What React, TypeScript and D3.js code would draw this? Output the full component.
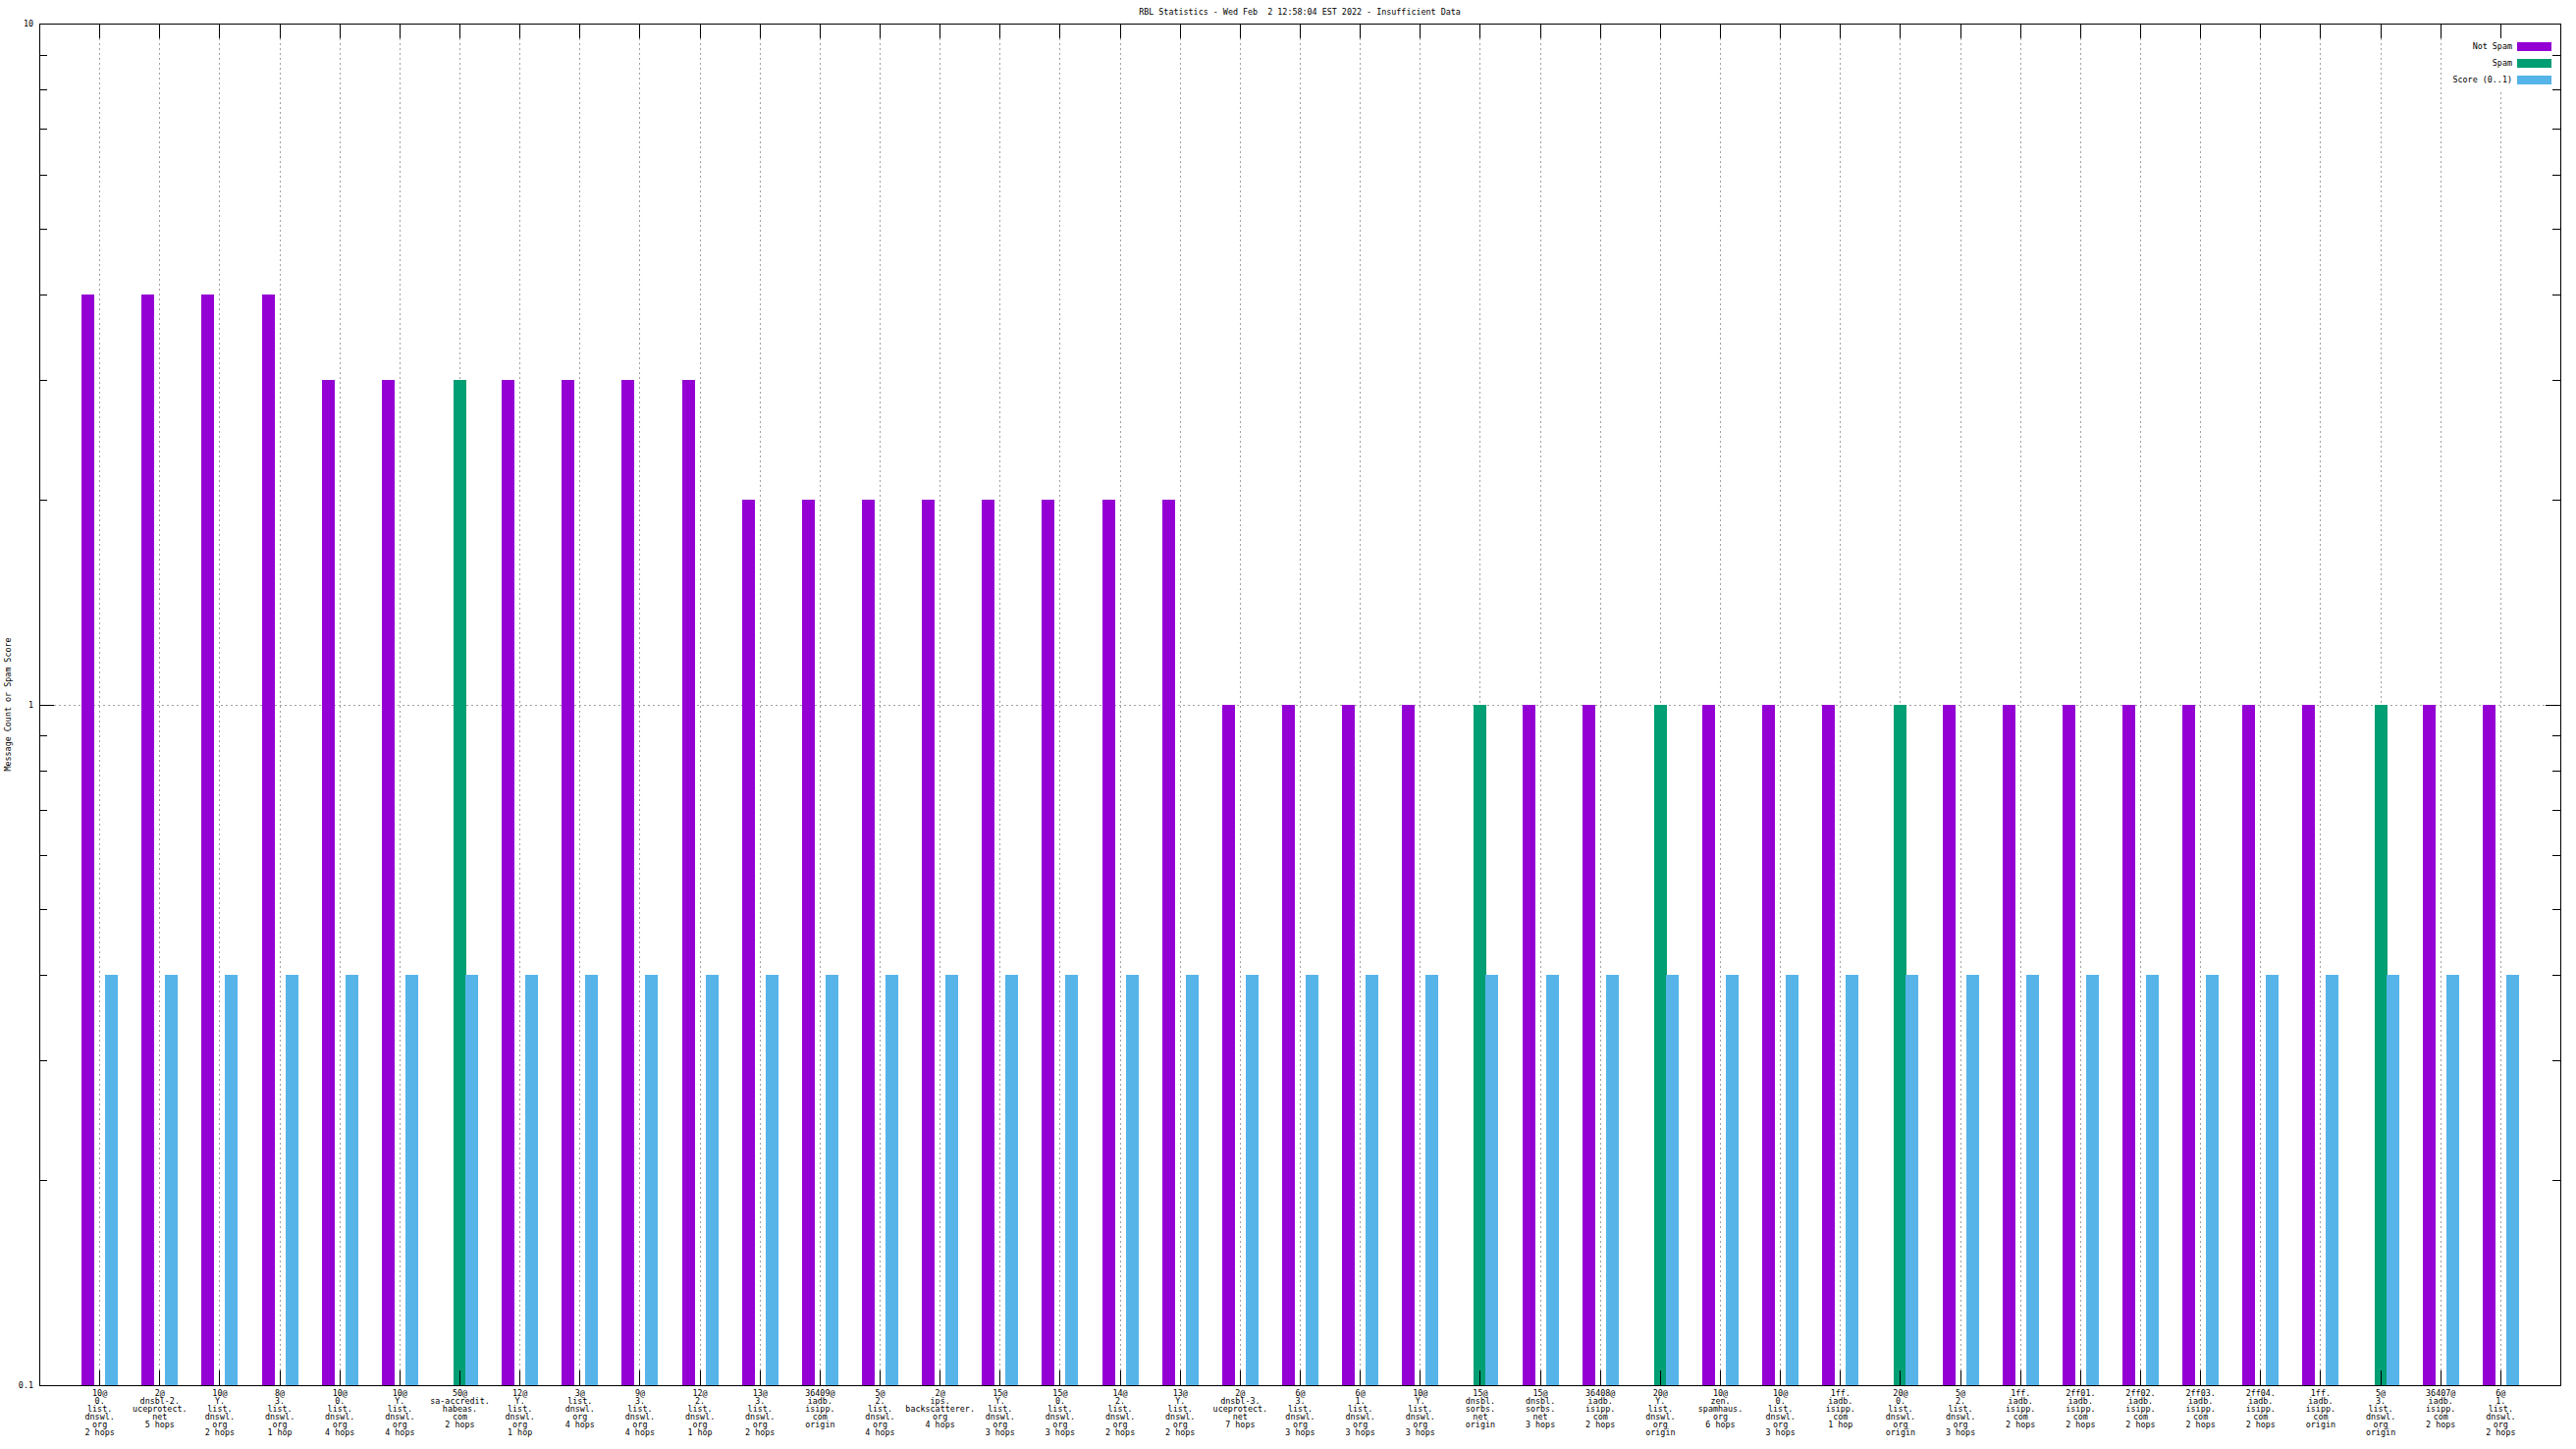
import React from "react";
import * as d3 from "d3";

const TITLE = "RBL Statistics - Wed Feb  2 12:58:04 EST 2022 - Insufficient Data";
const Y_LABEL = "Message Count or Spam Score";
const SERIES = ["Not Spam", "Spam", "Score (0..1)"];
const COLORS = ["#9400d3", "#009e73", "#56b4e9"];

const categories: string[][] = [
  ["10@", "0.", "list.", "dnswl.", "org", "2 hops"],
  ["2@", "dnsbl-2.", "uceprotect.", "net", "5 hops"],
  ["10@", "Y.", "list.", "dnswl.", "org", "2 hops"],
  ["8@", "3.", "list.", "dnswl.", "org", "1 hop"],
  ["10@", "0.", "list.", "dnswl.", "org", "4 hops"],
  ["10@", "Y.", "list.", "dnswl.", "org", "4 hops"],
  ["50@", "sa-accredit.", "habeas.", "com", "2 hops"],
  ["12@", "Y.", "list.", "dnswl.", "org", "1 hop"],
  ["3@", "list.", "dnswl.", "org", "4 hops"],
  ["9@", "3.", "list.", "dnswl.", "org", "4 hops"],
  ["12@", "2.", "list.", "dnswl.", "org", "1 hop"],
  ["13@", "3.", "list.", "dnswl.", "org", "2 hops"],
  ["36409@", "iadb.", "isipp.", "com", "origin"],
  ["5@", "2.", "list.", "dnswl.", "org", "4 hops"],
  ["2@", "ips.", "backscatterer.", "org", "4 hops"],
  ["15@", "Y.", "list.", "dnswl.", "org", "3 hops"],
  ["15@", "0.", "list.", "dnswl.", "org", "3 hops"],
  ["14@", "2.", "list.", "dnswl.", "org", "2 hops"],
  ["13@", "Y.", "list.", "dnswl.", "org", "2 hops"],
  ["2@", "dnsbl-3.", "uceprotect.", "net", "7 hops"],
  ["6@", "3.", "list.", "dnswl.", "org", "3 hops"],
  ["6@", "1.", "list.", "dnswl.", "org", "3 hops"],
  ["10@", "Y.", "list.", "dnswl.", "org", "3 hops"],
  ["15@", "dnsbl.", "sorbs.", "net", "origin"],
  ["15@", "dnsbl.", "sorbs.", "net", "3 hops"],
  ["36408@", "iadb.", "isipp.", "com", "2 hops"],
  ["20@", "Y.", "list.", "dnswl.", "org", "origin"],
  ["10@", "zen.", "spamhaus.", "org", "6 hops"],
  ["10@", "0.", "list.", "dnswl.", "org", "3 hops"],
  ["1ff.", "iadb.", "isipp.", "com", "1 hop"],
  ["20@", "0.", "list.", "dnswl.", "org", "origin"],
  ["5@", "2.", "list.", "dnswl.", "org", "3 hops"],
  ["1ff.", "iadb.", "isipp.", "com", "2 hops"],
  ["2ff01.", "iadb.", "isipp.", "com", "2 hops"],
  ["2ff02.", "iadb.", "isipp.", "com", "2 hops"],
  ["2ff03.", "iadb.", "isipp.", "com", "2 hops"],
  ["2ff04.", "iadb.", "isipp.", "com", "2 hops"],
  ["1ff.", "iadb.", "isipp.", "com", "origin"],
  ["5@", "3.", "list.", "dnswl.", "org", "origin"],
  ["36407@", "iadb.", "isipp.", "com", "2 hops"],
  ["6@", "1.", "list.", "dnswl.", "org", "2 hops"],
];

const notSpam = [4, 4, 4, 4, 3, 3, 0, 3, 3, 3, 3, 2, 2, 2, 2, 2, 2, 2, 2, 1, 1, 1, 1, 0, 1, 1, 0, 1, 1, 1, 0, 1, 1, 1, 1, 1, 1, 1, 0, 1, 1];
const spam = [0, 0, 0, 0, 0, 0, 3, 0, 0, 0, 0, 0, 0, 0, 0, 0, 0, 0, 0, 0, 0, 0, 0, 1, 0, 0, 1, 0, 0, 0, 1, 0, 0, 0, 0, 0, 0, 0, 1, 0, 0];
const score = categories.map(() => 0.4);

const yTickLabels = ["0.1", "1", "10"];
const yMajor = [0.1, 1, 10];
const yMinor = [0.2, 0.3, 0.4, 0.5, 0.6, 0.7, 0.8, 0.9, 2, 3, 4, 5, 6, 7, 8, 9];

const W = 2624, H = 1476;
const L = 40, R = 2608, T = 24, B = 1411;
const FONT = "'DejaVu Sans Mono', 'Liberation Mono', monospace";
const FS = 8.4;

export default function App() {
  const n = categories.length;
  const x = d3.scaleLinear().domain([-1, n]).range([L, R]);
  const y = d3.scaleLog().domain([0.1, 10]).range([B, T]);
  const sub = d3.scaleLinear().domain([0, 2]).range([-11.5, 12.5]);
  const barW = 13;
  const seriesVals = [notSpam, spam, score];
  const grid = "#a0a0a0";

  return (
    <svg width={W} height={H} style={{ position: "absolute", left: 0, top: 0, background: "#fff" }}
      fontFamily={FONT} fontSize={FS}>
      <rect x={0} y={0} width={W} height={H} fill="#fff" />
      {/* title */}
      <text x={(L + R) / 2} y={15} textAnchor="middle" fill="#000" xmlSpace="preserve"
        style={{ whiteSpace: "pre" }}>{TITLE}</text>
      {/* grid */}
      <g stroke={grid} strokeWidth={1} strokeDasharray="2,3" shapeRendering="crispEdges">
        {categories.map((_, i) => (
          <line key={"gx" + i} x1={Math.round(x(i)) + 0.5} x2={Math.round(x(i)) + 0.5} y1={T} y2={B} />
        ))}
        {yMajor.map((v, i) => (
          <line key={"gy" + i} x1={L} x2={R} y1={Math.round(y(v)) + 0.5} y2={Math.round(y(v)) + 0.5} />
        ))}
      </g>
      {/* bars */}
      <g shapeRendering="crispEdges">
        {seriesVals.map((vals, s) =>
          vals.map((v, i) => {
            if (!(v > 0.1)) return null;
            const cx = x(i) + sub(s);
            const top = Math.round(y(v));
            return (
              <rect key={s + "-" + i} x={Math.round(cx - barW / 2)} y={top} width={barW} height={B - top}
                fill={COLORS[s]} />
            );
          })
        )}
      </g>
      {/* legend */}
      <rect x={2494} y={39} width={110} height={52} fill="#fff" />
      {SERIES.map((s, k) => {
        const cy = 47.5 + k * 17;
        return (
          <g key={"lg" + k}>
            <text x={2559} y={cy + 2.5} textAnchor="end" fill="#000">{s}</text>
            <rect x={2564} y={cy - 4.5} width={35} height={9} fill={COLORS[k]} shapeRendering="crispEdges" />
          </g>
        );
      })}
      {/* ticks */}
      <g stroke="#000" strokeWidth={1} shapeRendering="crispEdges">
        {categories.map((_, i) => {
          const xx = Math.round(x(i)) + 0.5;
          return (
            <g key={"tx" + i}>
              <line x1={xx} x2={xx} y1={B} y2={B - 15} />
              <line x1={xx} x2={xx} y1={T} y2={T + 15} />
            </g>
          );
        })}
        {yMajor.map((v, i) => {
          const yy = Math.round(y(v)) + 0.5;
          return (
            <g key={"tym" + i}>
              <line x1={L} x2={L + 15} y1={yy} y2={yy} />
              <line x1={R} x2={R - 15} y1={yy} y2={yy} />
            </g>
          );
        })}
        {yMinor.map((v, i) => {
          const yy = Math.round(y(v)) + 0.5;
          return (
            <g key={"tyn" + i}>
              <line x1={L} x2={L + 8} y1={yy} y2={yy} />
              <line x1={R} x2={R - 8} y1={yy} y2={yy} />
            </g>
          );
        })}
      </g>
      {/* border */}
      <rect x={L + 0.5} y={T + 0.5} width={R - L} height={B - T} fill="none" stroke="#000" strokeWidth={1}
        shapeRendering="crispEdges" />
      {/* y tick labels */}
      {yMajor.map((v, i) => (
        <text key={"yl" + i} x={34} y={Math.round(y(v)) + 3} textAnchor="end" fill="#000">{yTickLabels[i]}</text>
      ))}
      {/* y axis label */}
      <text transform={`translate(11,${(T + B) / 2}) rotate(-90)`} textAnchor="middle" fill="#000">{Y_LABEL}</text>
      {/* x labels */}
      {categories.map((lines, i) => (
        <text key={"xl" + i} x={x(i) + 0.5} y={1422} textAnchor="middle" fill="#000">
          {lines.map((ln, j) => (
            <tspan key={j} x={x(i) + 0.5} y={1422 + j * 8}>{ln}</tspan>
          ))}
        </text>
      ))}
    </svg>
  );
}
